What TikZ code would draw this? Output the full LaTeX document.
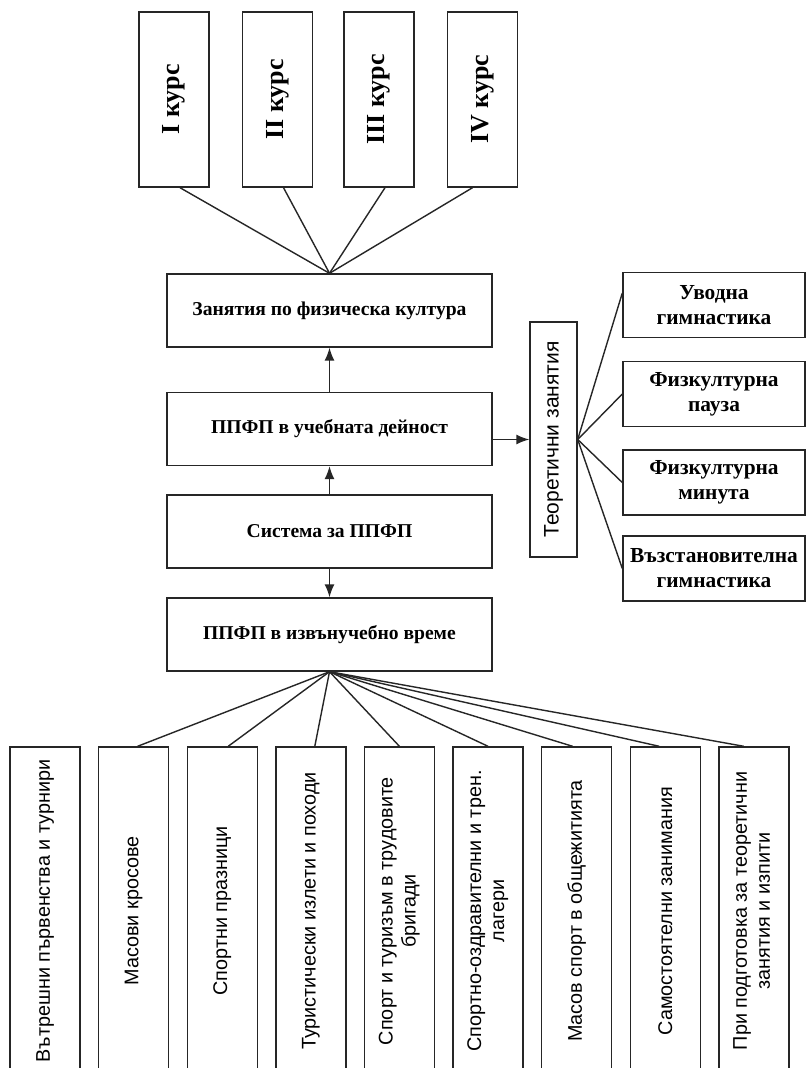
\documentclass[tikz,border=0pt]{standalone}
\usepackage{fontspec}
\setmainfont{Liberation Serif}
\setsansfont{Liberation Sans}
\usetikzlibrary{arrows.meta}

\begin{document}
\begin{tikzpicture}[x=0.5pt,y=-0.5pt,
    ink/.style={draw=black!85,line width=0.7pt},
    kurs/.style={ink,minimum width=35pt,minimum height=87.5pt,inner sep=0pt,
      font=\bfseries\fontsize{13}{15}\selectfont},
    blok/.style={ink,minimum width=162.5pt,minimum height=36.5pt,inner sep=0pt,
      font=\bfseries\fontsize{9.8}{12}\selectfont},
    vid/.style={ink,minimum width=91pt,minimum height=32.5pt,inner sep=0pt,
      align=center,font=\bfseries\fontsize{10.7}{12.5}\selectfont},
    forma/.style={ink,minimum width=35pt,minimum height=164pt,inner sep=0pt,
      font=\sffamily\fontsize{9.9}{11.5}\selectfont},
    liniya/.style={draw=black!85,line width=0.7pt},
    strelka/.style={liniya,-{Latex[length=6.5pt,width=5pt]}}]
    \clip (0,0) rectangle (807,1068);
    \fill[white] (0,0) rectangle (807,1068);
    \node[kurs] (k1) at (174,99.5) {\rotatebox{90}{I курс}};
    \node[kurs] (k2) at (277.5,99.5) {\rotatebox{90}{II курс}};
    \node[kurs] (k3) at (379,99.5) {\rotatebox{90}{III курс}};
    \node[kurs] (k4) at (482.5,99.5) {\rotatebox{90}{IV курс}};
    \node[blok] (zan) at (329.5,310.5) {Занятия по физическа култура};
    \node[blok] (ucheb) at (329.5,429) {ППФП в учебната дейност};
    \node[blok] (sist) at (329.5,531.5) {Система за ППФП};
    \node[blok] (izvan) at (329.5,634.5) {ППФП в извънучебно време};
    \node[ink,minimum width=23.5pt,minimum height=117.5pt,inner sep=0pt,
      font=\sffamily\fontsize{10.5}{12}\selectfont] (teor) at (553.5,439.5)
      {\rotatebox{90}{Теоретични занятия}};
    \node[vid] (v1) at (714,305) {Уводна\\гимнастика};
    \node[vid] (v2) at (714,394) {Физкултурна\\пауза};
    \node[vid] (v3) at (714,482.5) {Физкултурна\\минута};
    \node[vid] (v4) at (714,568.5) {Възстановителна\\гимнастика};
    \node[forma] (f1) at (45,911) {\rotatebox{90}{Вътрешни първенства и турнири}};
    \node[forma] (f2) at (133.6,911) {\rotatebox{90}{Масови кросове}};
    \node[forma] (f3) at (222.2,911) {\rotatebox{90}{Спортни празници}};
    \node[forma] (f4) at (310.8,911) {\rotatebox{90}{Туристически излети и походи}};
    \node[forma] (f5) at (399.4,911) {\rotatebox{90}{\begin{tabular}{@{}c@{}}Спорт
      и туризъм в трудовите\\бригади\end{tabular}}};
    \node[forma] (f6) at (488,911) {\rotatebox{90}{\begin{tabular}{@{}c@{}}Спортно-оздравителни
      и трен.\\лагери\end{tabular}}};
    \node[forma] (f7) at (576.6,911) {\rotatebox{90}{Масов спорт в общежитията}};
    \node[forma] (f8) at (665.2,911) {\rotatebox{90}{Самостоятелни занимания}};
    \node[forma] (f9) at (753.8,911) {\rotatebox{90}{\begin{tabular}{@{}c@{}}При
      подготовка за теоретични\\занятия и изпити\end{tabular}}};
    \draw[liniya] ([xshift=3pt]k1.south) -- (zan.north);
    \draw[liniya] ([xshift=3pt]k2.south) -- (zan.north);
    \draw[liniya] ([xshift=3pt]k3.south) -- (zan.north);
    \draw[liniya] ([xshift=-5pt]k4.south) -- (zan.north);
    \draw[strelka] (ucheb) -- (zan);
    \draw[strelka] (sist) -- (ucheb);
    \draw[strelka] (sist) -- (izvan);
    \draw[strelka] (teor.west -| ucheb.east) -- (teor.west);
    \draw[liniya] (teor.east) -- ([yshift=6pt]v1.west);
    \draw[liniya] (teor.east) -- (v2.west);
    \draw[liniya] (teor.east) -- (v3.west);
    \draw[liniya] (teor.east) -- (v4.west);
    \draw[liniya] (izvan.south) -- ([xshift=2pt]f2.north);
    \draw[liniya] (izvan.south) -- ([xshift=3pt]f3.north);
    \draw[liniya] (izvan.south) -- ([xshift=2pt]f4.north);
    \draw[liniya] (izvan.south) -- (f5.north);
    \draw[liniya] (izvan.south) -- (f6.north);
    \draw[liniya] (izvan.south) -- ([xshift=-2pt]f7.north);
    \draw[liniya] (izvan.south) -- ([xshift=-3pt]f8.north);
    \draw[liniya] (izvan.south) -- ([xshift=-5pt]f9.north);
\end{tikzpicture}
\end{document}
